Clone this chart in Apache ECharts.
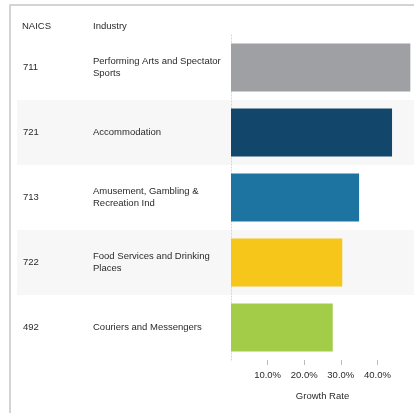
<!DOCTYPE html>
<html>
<head>
<meta charset="utf-8">
<script src="https://cdn.jsdelivr.net/npm/echarts@6/dist/echarts.min.js"></script>
<style>
  html, body { margin: 0; padding: 0; background: #fff; }
  #chart { width: 414px; height: 413px; }
</style>
</head>
<body>
<div id="chart"></div>
<script>
// table rows, top to bottom
const naics = ["711", "721", "713", "722", "492"];
const industries = [
  "Performing Arts and Spectator\nSports",
  "Accommodation",
  "Amusement, Gambling &\nRecreation Ind",
  "Food Services and Drinking\nPlaces",
  "Couriers and Messengers"
];
const growthRate = [49.0, 44.0, 35.0, 30.4, 27.8];
const tickLabels = [10, 20, 30, 40];

const barColors = ["#9fa0a4", "#12466a", "#1e74a0", "#f6c61b", "#a3cd49"];
const font = "'Liberation Sans', Arial, sans-serif";
const textColor = "#2a2a2a";

const chart = echarts.init(document.getElementById("chart"));
chart.setOption({
  animation: false,
  textStyle: { fontFamily: font },
  title: [
    { text: "NAICS", left: 22, top: 21, padding: 0,
      textStyle: { fontSize: 9.5, fontWeight: "normal", color: textColor, fontFamily: font } },
    { text: "Industry", left: 93, top: 21, padding: 0,
      textStyle: { fontSize: 9.5, fontWeight: "normal", color: textColor, fontFamily: font } }
  ],
  graphic: [
    {
      // outer frame (top and left edges only)
      type: "polyline",
      shape: { points: [[10, 413], [10, 5], [414, 5]] },
      style: { stroke: "#c6c6c6", lineWidth: 1.5, fill: null }
    }
  ],
  grid: [
    { left: 17, right: 0, top: 35, height: 325 },
    { left: 231, right: 0, top: 35, height: 325 }
  ],
  xAxis: [
    { gridIndex: 0, type: "value", show: false },
    {
      gridIndex: 1,
      type: "value",
      min: 0,
      max: 50,
      interval: 10,
      axisLine: { show: false },
      axisTick: { show: true, length: 5, lineStyle: { color: "#bbb" } },
      splitLine: { show: false },
      axisLabel: {
        showMinLabel: false,
        showMaxLabel: false,
        margin: 10,
        fontSize: 9.5,
        color: textColor,
        formatter: v => (tickLabels.indexOf(v) >= 0 ? v.toFixed(1) + "%" : "")
      },
      name: "Growth Rate",
      nameLocation: "middle",
      nameGap: 31,
      nameTextStyle: { fontSize: 9.5, color: textColor }
    }
  ],
  yAxis: [
    {
      // alternating row bands
      gridIndex: 0,
      type: "category",
      inverse: true,
      data: naics,
      axisLine: { show: false },
      axisTick: { show: false },
      axisLabel: { show: false },
      splitLine: { show: false },
      splitArea: { show: true, areaStyle: { color: ["#ffffff", "#f7f7f7"] } }
    },
    {
      gridIndex: 1,
      type: "category",
      inverse: true,
      position: "left",
      data: industries,
      axisLine: { show: true, lineStyle: { color: "#d4d4d4", type: [1, 2] } },
      axisTick: { show: false },
      axisLabel: {
        align: "left",
        margin: 138,
        fontSize: 9.5,
        lineHeight: 12.5,
        color: textColor
      }
    },
    {
      gridIndex: 1,
      type: "category",
      inverse: true,
      position: "left",
      data: naics,
      axisLine: { show: false },
      axisTick: { show: false },
      axisLabel: { align: "left", margin: 208, fontSize: 9.5, color: textColor }
    }
  ],
  series: [
    {
      type: "bar",
      xAxisIndex: 1,
      yAxisIndex: 1,
      barWidth: 48,
      data: growthRate.map((v, i) => ({ value: v, itemStyle: { color: barColors[i] } }))
    }
  ]
});
</script>
</body>
</html>
